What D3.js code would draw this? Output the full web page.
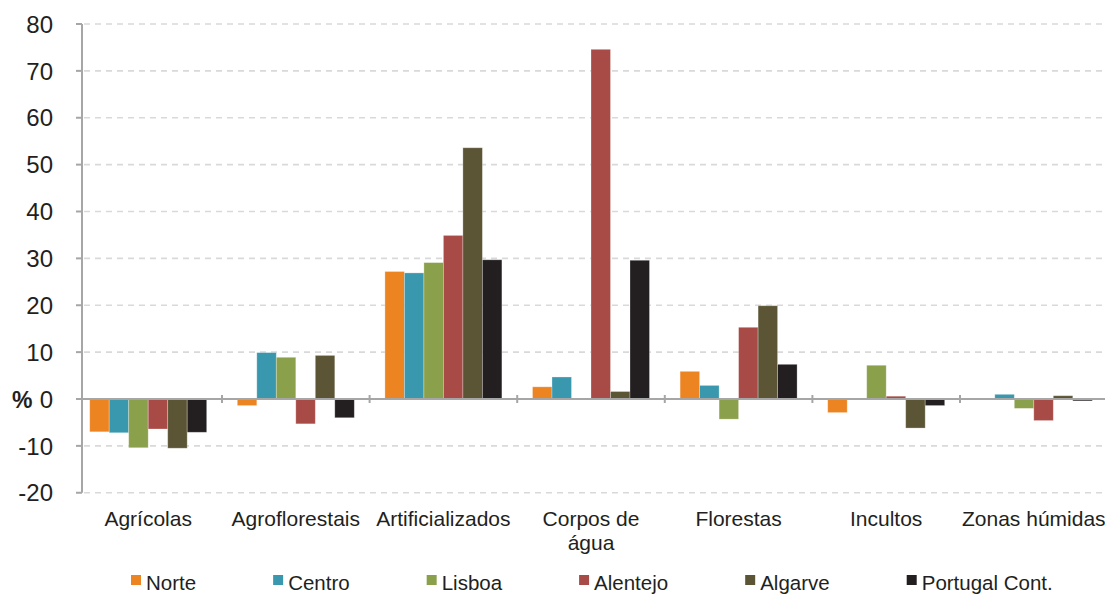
<!DOCTYPE html>
<html>
<head>
<meta charset="utf-8">
<script src="https://cdn.jsdelivr.net/npm/d3@7"></script>
<style>
  html, body { margin: 0; padding: 0; background: #fff; }
  svg { display: block; }
  text { font-family: "Liberation Sans", Arial, sans-serif; fill: #231F20; }
</style>
</head>
<body>
<svg id="chart" width="1105" height="594"></svg>
<script>
const categories = ["Agrícolas", "Agroflorestais", "Artificializados", "Corpos de água", "Florestas", "Incultos", "Zonas húmidas"];
const seriesNames = ["Norte", "Centro", "Lisboa", "Alentejo", "Algarve", "Portugal Cont."];
const norte    = [-7.0, -1.4, 27.2,  2.6,  5.9, -2.9,  0.0];
const centro   = [-7.2,  9.9, 26.9,  4.7,  2.9, -0.2,  1.0];
const lisboa   = [-10.4, 8.9, 29.1,  0.0, -4.3,  7.2, -2.0];
const alentejo = [-6.4, -5.3, 34.9, 74.6, 15.3,  0.6, -4.6];
const algarve  = [-10.5, 9.3, 53.6,  1.6, 19.9, -6.2,  0.7];
const portugal = [-7.1, -4.0, 29.7, 29.6,  7.4, -1.4, -0.4];
const yTicks = [-20, -10, 0, 10, 20, 30, 40, 50, 60, 70, 80];
const colors = ["#EC8422", "#3A98AE", "#8BA04A", "#A84A45", "#5C5535", "#231F20"];

const seriesValues = [norte, centro, lisboa, alentejo, algarve, portugal];
const data = categories.map((c, i) => ({
  cat: c,
  vals: seriesNames.map((s, j) => ({ s, v: seriesValues[j][i], c: colors[j] }))
}));

const svg = d3.select("#chart");
const axisX = 82;
const y = d3.scaleLinear().domain([-20, 80]).range([492.75, 24]);
const x0 = d3.scaleBand().domain(categories).range([74.4, 1107.6]).paddingInner(0).paddingOuter(0);
const x1 = d3.scaleBand().domain(seriesNames).range([0, x0.bandwidth()]).paddingInner(0).paddingOuter(0.785);

// gridlines
svg.append("g").selectAll("line").data(yTicks.filter(t => t !== 0)).join("line")
  .attr("x1", axisX + 2).attr("x2", 1105)
  .attr("y1", d => y(d)).attr("y2", d => y(d))
  .attr("stroke", "#D9D9D9").attr("stroke-width", 1.6).attr("stroke-dasharray", "6,5");

// bars
const groups = svg.append("g").selectAll("g").data(data).join("g")
  .attr("transform", d => `translate(${x0(d.cat)},0)`);
groups.selectAll("rect").data(d => d.vals).join("rect")
  .attr("x", d => x1(d.s))
  .attr("width", x1.bandwidth())
  .attr("y", d => Math.min(y(d.v), y(0)))
  .attr("height", d => Math.abs(y(d.v) - y(0)))
  .attr("fill", d => d.c)
  .attr("stroke", "#ffffff").attr("stroke-opacity", 0.35).attr("stroke-width", 0.8);

// zero axis
svg.append("line").attr("x1", axisX).attr("x2", 1105).attr("y1", y(0)).attr("y2", y(0))
  .attr("stroke", "#A6A6A6").attr("stroke-width", 2);
// category tick marks
const boundaries = categories.slice(1).map(c => x0(c));
svg.append("g").selectAll("line").data(boundaries).join("line")
  .attr("x1", d => d).attr("x2", d => d)
  .attr("y1", y(0) - 4).attr("y2", y(0) + 4)
  .attr("stroke", "#A6A6A6").attr("stroke-width", 2);

// y axis
svg.append("line").attr("x1", axisX).attr("x2", axisX).attr("y1", y(80)).attr("y2", y(-20))
  .attr("stroke", "#A6A6A6").attr("stroke-width", 2);
svg.append("g").selectAll("line").data(yTicks).join("line")
  .attr("x1", axisX - 6).attr("x2", axisX).attr("y1", d => y(d)).attr("y2", d => y(d))
  .attr("stroke", "#A6A6A6").attr("stroke-width", 2);
svg.append("g").selectAll("text").data(yTicks).join("text")
  .attr("x", 53).attr("y", d => y(d)).attr("dy", "0.36em")
  .attr("text-anchor", "end").style("font-size", "24px")
  .text(d => d);
svg.append("text").attr("x", 12).attr("y", y(0)).attr("dy", "0.38em")
  .style("font-size", "23px").style("font-weight", "bold").text("%");

// category labels with wrapping
const catG = svg.append("g");
categories.forEach(c => {
  const cx = x0(c) + x0.bandwidth() / 2;
  const t = catG.append("text").attr("x", cx).attr("y", 526)
    .attr("text-anchor", "middle").style("font-size", "21px").text(c);
  if (t.node().getComputedTextLength() > x0.bandwidth()) {
    const words = c.split(" ");
    const last = words.pop();
    t.text(null);
    t.append("tspan").attr("x", cx).attr("y", 526).text(words.join(" "));
    t.append("tspan").attr("x", cx).attr("y", 550).text(last);
  }
});

// legend
const leg = svg.append("g");
let lx = 131;
seriesNames.forEach((s, i) => {
  leg.append("rect").attr("x", lx).attr("y", 575).attr("width", 10).attr("height", 10).attr("fill", colors[i]);
  const t = leg.append("text").attr("x", lx + 15).attr("y", 590).style("font-size", "20.5px").text(s);
  lx = lx + 15 + t.node().getComputedTextLength() + 77;
});
</script>
</body>
</html>
